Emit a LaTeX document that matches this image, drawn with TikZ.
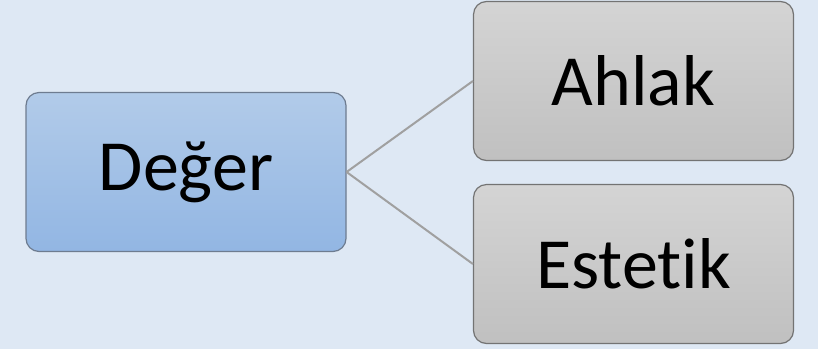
\documentclass[tikz,border=0pt]{standalone}
\usepackage{fontspec}
\setmainfont{Carlito}[Ligatures=NoCommon]
\definecolor{bgblue}{HTML}{DEE8F4}
\definecolor{lineg}{HTML}{A0A0A0}
\definecolor{rootedge}{HTML}{6E7C90}
\tikzset{
    topic/.style={draw, line width=1.2pt, rounded corners=13pt, minimum width=320pt,
        minimum height=159pt, font=\fontsize{72}{86}\selectfont},
    root/.style={topic, draw=rootedge, top color={rgb,255:red,178;green,203;blue,233},
        bottom color={rgb,255:red,146;green,182;blue,227}},
    leaf/.style={topic, draw=black!55, top color={rgb,255:red,212;green,212;blue,212},
        bottom color={rgb,255:red,192;green,192;blue,192}},
    link/.style={draw=lineg, line width=2pt}
}
\begin{document}
\begin{tikzpicture}[x=1pt, y=-1pt]
    % background
    \fill [bgblue] (0,0) rectangle (818,349);
    \useasboundingbox (0,0) rectangle (818,349);

    % boxes
    \node [root] (deger) at (186,172) {Değer};
    \node [leaf] (ahlak) at (633.5,81) {Ahlak};
    \node [leaf] (estetik) at (633.5,264) {Estetik};

    % links
    \draw [link] (deger.east) -- (ahlak.west);
    \draw [link] (deger.east) -- (estetik.west);
\end{tikzpicture}
\end{document}
